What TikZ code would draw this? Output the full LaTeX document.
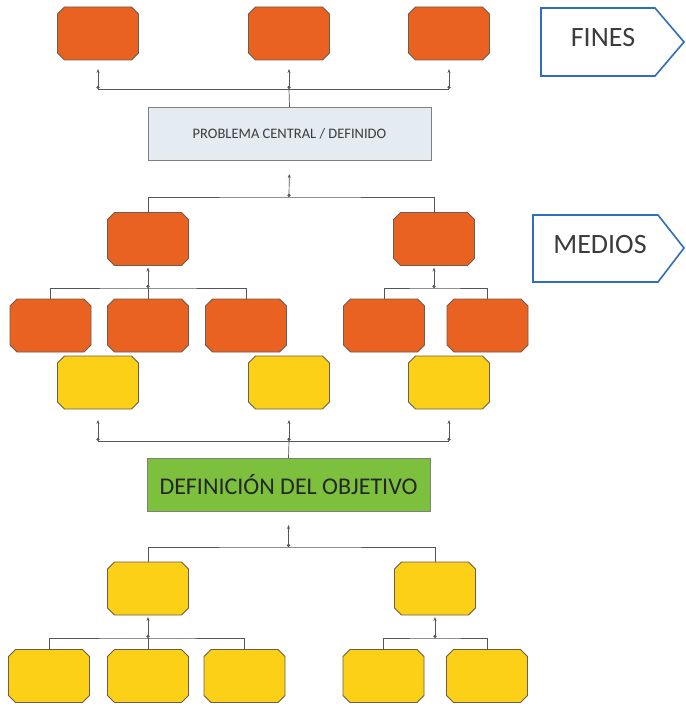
\documentclass[tikz,border=0pt]{standalone}
\usepackage{fontspec}
\setmainfont{Carlito}
\usetikzlibrary{arrows.meta}
\definecolor{cnaranja}{RGB}{233,98,33}
\definecolor{camarillo}{RGB}{252,208,22}
\definecolor{cverde}{RGB}{124,192,62}
\definecolor{cgrisazul}{RGB}{228,235,241}
\definecolor{cborde}{RGB}{110,92,76}
\definecolor{clinea}{RGB}{85,85,85}
\definecolor{cazul}{RGB}{47,110,186}
\definecolor{ctexto}{RGB}{60,60,60}

\begin{document}
\begin{tikzpicture}[x=1pt,y=-1pt,
  every node/.style={outer sep=0pt},
  caja/.style={minimum width=81pt, minimum height=53pt, inner sep=0pt},
  chaflan/.style={draw=cborde, line width=0.8pt, line join=miter},
  linea/.style={draw=clinea, line width=0.7pt},
  sube/.style={linea, {Circle[length=3.2pt]}-{Stealth[length=4pt,width=3pt]}},
  etiqueta/.style={draw=cazul, line width=1.6pt, line join=miter}]
\useasboundingbox (0,0) rectangle (685,706);

\node[caja] (f1) at (98,33.5) {};
\node[caja] (f2) at (289,33.5) {};
\node[caja] (f3) at (449,33.5) {};

\node[draw=gray, fill=cgrisazul, minimum width=283pt, minimum height=53pt, font=\fontsize{14.5}{15}\selectfont, text=ctexto] (prob) at (289.5,133.5) {PROBLEMA CENTRAL / DEFINIDO};

\node[caja] (m1) at (148,239) {};
\node[caja] (m2) at (434,239) {};

\node[caja] (m11) at (50.5,325.5) {};
\node[caja] (m12) at (148,325.5) {};
\node[caja] (m13) at (246,325.5) {};
\node[caja] (m21) at (384,325.5) {};
\node[caja] (m22) at (487.5,325.5) {};

\node[caja] (y1) at (98,382.5) {};
\node[caja] (y2) at (289,382.5) {};
\node[caja] (y3) at (449,382.5) {};

\node[draw=gray, fill=cverde, minimum width=283pt, minimum height=53pt, font=\fontsize{24}{26}\selectfont, text=black!85] (obj) at (288.5,484.5) {DEFINICIÓN DEL OBJETIVO};

\node[caja] (a1) at (148,588.5) {};
\node[caja] (a2) at (435,588.5) {};

\node[caja] (a11) at (49,676) {};
\node[caja] (a12) at (148,676) {};
\node[caja] (a13) at (244.5,676) {};
\node[caja] (a21) at (383.5,676) {};
\node[caja] (a22) at (487,676) {};

\foreach \n/\c in {f1/cnaranja,f2/cnaranja,f3/cnaranja,m1/cnaranja,m2/cnaranja,
    m11/cnaranja,m12/cnaranja,m13/cnaranja,m21/cnaranja,m22/cnaranja,
    y1/camarillo,y2/camarillo,y3/camarillo,a1/camarillo,a2/camarillo,
    a11/camarillo,a12/camarillo,a13/camarillo,a21/camarillo,a22/camarillo}
  \draw[chaflan, fill=\c] ([xshift=7pt]\n.north west) -- ([xshift=-7pt]\n.north east)
    -- ([yshift=-7pt]\n.north east) -- ([yshift=7pt]\n.south east)
    -- ([xshift=-7pt]\n.south east) -- ([xshift=7pt]\n.south west)
    -- ([yshift=7pt]\n.south west) -- ([yshift=-7pt]\n.north west) -- cycle;

\draw[etiqueta] (541,8) -- (655,8) -- (684,42) -- (655,76) -- (541,76) -- cycle;
\node[font=\fontsize{28}{30}\selectfont, text=ctexto] (fines) at (603,38) {FINES};
\draw[etiqueta] (533,215) -- (658,215) -- (684,248) -- (658,282) -- (533,282) -- cycle;
\node[font=\fontsize{28}{30}\selectfont, text=ctexto] (medios) at (600,245) {MEDIOS};

\coordinate (j1) at (289,89);
\draw[linea] (prob.north) -- (j1);
\draw[linea] (f1.south |- j1) -- (f3.south |- j1);
\foreach \n in {f1,f2,f3}
  \draw[sube, shorten >=9pt] (\n.south |- j1) -- (\n.south);

\coordinate (j2) at (289,197);
\draw[sube, shorten >=14pt] (j2) -- (prob.south);
\draw[linea] (m1.north) |- (j2) -| (m2.north);

\coordinate (j3) at (148,288);
\draw[sube, shorten >=2pt] (j3) -- (m1.south);
\draw[linea] (m11.north) |- (j3) -| (m13.north);
\draw[linea] (j3) -- (m12.north);

\coordinate (j4) at (434,288);
\draw[sube, shorten >=2pt] (j4) -- (m2.south);
\draw[linea] (m21.north) |- (j4) -| (m22.north);

\coordinate (j5) at (289,441);
\draw[linea] (obj.north) -- (j5);
\draw[linea] (y1.south |- j5) -- (y3.south |- j5);
\foreach \n in {y1,y2,y3}
  \draw[sube, shorten >=11pt] (\n.south |- j5) -- (\n.south);

\coordinate (j6) at (288.5,547);
\draw[sube, shorten >=14pt] (j6) -- (obj.south);
\draw[linea] (a1.north) |- (j6) -| (a2.north);

\coordinate (j7) at (148,638);
\draw[sube, shorten >=2pt] (j7) -- (a1.south);
\draw[linea] (a11.north) |- (j7) -| (a13.north);
\draw[linea] (j7) -- (a12.north);

\coordinate (j8) at (435,638);
\draw[sube, shorten >=2pt] (j8) -- (a2.south);
\draw[linea] (a21.north) |- (j8) -| (a22.north);
\end{tikzpicture}
\end{document}
